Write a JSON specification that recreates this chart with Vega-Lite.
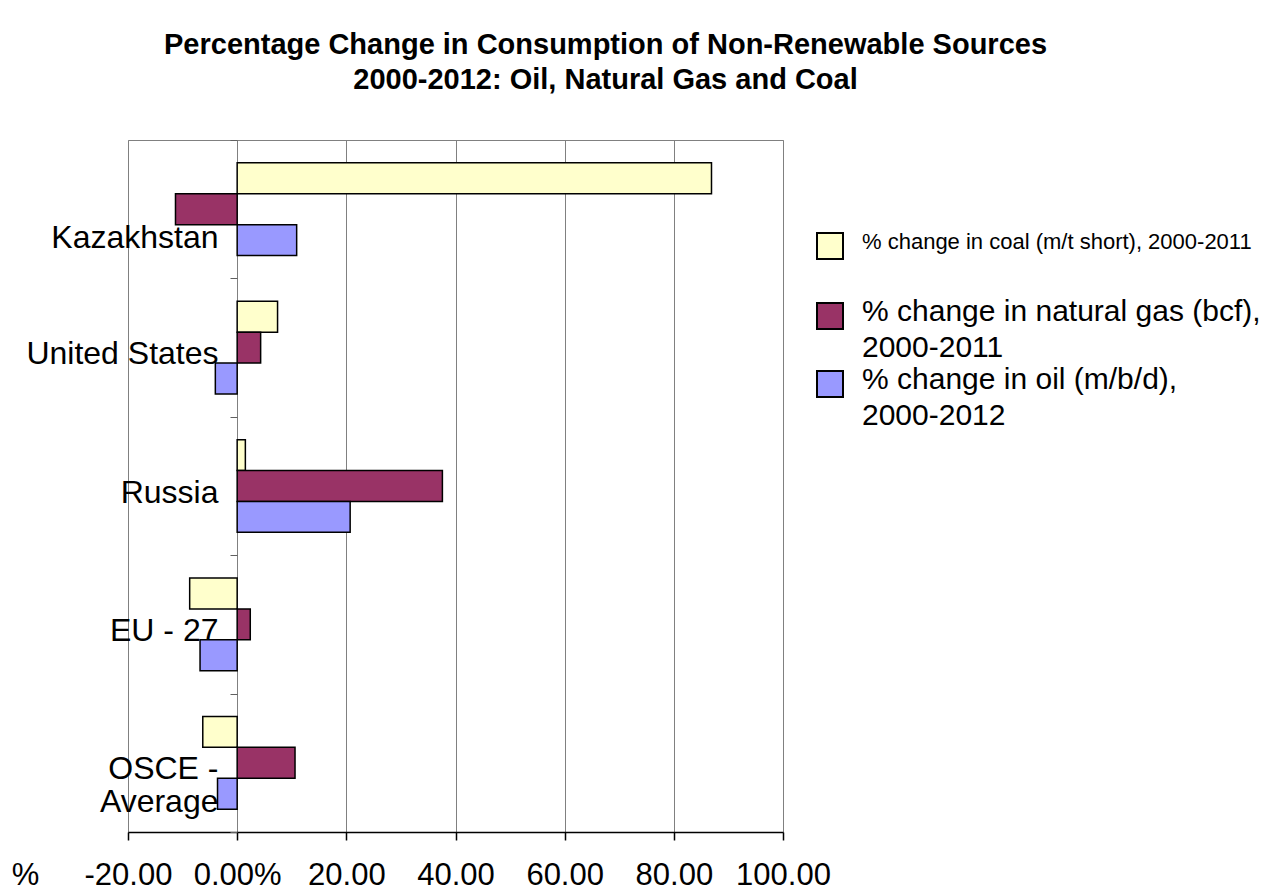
{
  "$schema": "https://vega.github.io/schema/vega-lite/v6.json",
  "autosize": {"type": "none"},
  "padding": {"left": 128, "top": 140, "right": 497, "bottom": 58},
  "width": 655,
  "height": 692,
  "background": "white",
  "config": {
    "font": "Liberation Sans",
    "view": {"stroke": "#808080", "strokeWidth": 1}
  },
  "title": {
    "text": ["Percentage Change in Consumption of Non-Renewable Sources", "2000-2012: Oil, Natural Gas and Coal"],
    "font": "Liberation Sans",
    "fontSize": 29,
    "fontWeight": "bold",
    "color": "black",
    "anchor": "middle",
    "dx": 150,
    "baseline": "bottom",
    "lineHeight": 35,
    "offset": 0
  },
  "data": {
    "values": [
      {"country": "Kazakhstan", "series": "% change in coal (m/t short), 2000-2011", "value": 86.9},
      {"country": "Kazakhstan", "series": "% change in natural gas (bcf), 2000-2011", "value": -11.3},
      {"country": "Kazakhstan", "series": "% change in oil (m/b/d), 2000-2012", "value": 10.9},
      {"country": "United States", "series": "% change in coal (m/t short), 2000-2011", "value": 7.4},
      {"country": "United States", "series": "% change in natural gas (bcf), 2000-2011", "value": 4.3},
      {"country": "United States", "series": "% change in oil (m/b/d), 2000-2012", "value": -4.0},
      {"country": "Russia", "series": "% change in coal (m/t short), 2000-2011", "value": 1.5},
      {"country": "Russia", "series": "% change in natural gas (bcf), 2000-2011", "value": 37.6},
      {"country": "Russia", "series": "% change in oil (m/b/d), 2000-2012", "value": 20.7},
      {"country": "EU - 27", "series": "% change in coal (m/t short), 2000-2011", "value": -8.7},
      {"country": "EU - 27", "series": "% change in natural gas (bcf), 2000-2011", "value": 2.4},
      {"country": "EU - 27", "series": "% change in oil (m/b/d), 2000-2012", "value": -6.8},
      {"country": "OSCE - Average", "series": "% change in coal (m/t short), 2000-2011", "value": -6.3},
      {"country": "OSCE - Average", "series": "% change in natural gas (bcf), 2000-2011", "value": 10.6},
      {"country": "OSCE - Average", "series": "% change in oil (m/b/d), 2000-2012", "value": -3.6}
    ]
  },
  "mark": {"type": "bar", "stroke": "black", "strokeWidth": 1.5, "orient": "horizontal"},
  "encoding": {
    "x": {
      "field": "value",
      "type": "quantitative",
      "scale": {"domain": [-20, 100], "nice": false, "zero": false},
      "axis": {
        "values": [-20, 0, 20, 40, 60, 80, 100],
        "labelExpr": "datum.value == 0 ? '0.00%' : replace(format(datum.value, '.2f'), '\u2212', '-')",
        "labelFont": "Liberation Sans",
        "labelFontSize": 31,
        "labelColor": "black",
        "labelPadding": 20,
        "labelFlush": false,
        "labelOverlap": false,
        "tickSize": 8,
        "tickColor": "black",
        "tickWidth": 1.5,
        "domainColor": "black",
        "domainWidth": 1.5,
        "grid": true,
        "gridColor": "#808080",
        "gridWidth": 1,
        "title": "%",
        "titleFont": "Liberation Sans",
        "titleFontSize": 31,
        "titleFontWeight": "normal",
        "titleColor": "black",
        "titleX": -103,
        "titleY": 28,
        "titleAlign": "center",
        "titleBaseline": "top"
      }
    },
    "y": {
      "field": "country",
      "type": "nominal",
      "sort": ["Kazakhstan", "United States", "Russia", "EU - 27", "OSCE - Average"],
      "scale": {"paddingInner": 0, "paddingOuter": 0},
      "axis": {
        "title": null,
        "offset": -109,
        "domain": false,
        "grid": false,
        "tickBand": "extent",
        "tickSize": 7,
        "tickColor": "#606060",
        "tickWidth": 1,
        "labelFont": "Liberation Sans",
        "labelFontSize": 32,
        "labelColor": "black",
        "labelPadding": 12,
        "labelLimit": 300,
        "labelLineHeight": 33,
        "labelOffset": {"condition": {"test": "datum.value == 'Kazakhstan'", "value": 28}, "value": 6},
        "labelExpr": "datum.value == 'OSCE - Average' ? ['OSCE -', 'Average'] : datum.value"
      }
    },
    "yOffset": {
      "field": "series",
      "type": "nominal",
      "sort": ["% change in coal (m/t short), 2000-2011", "% change in natural gas (bcf), 2000-2011", "% change in oil (m/b/d), 2000-2012"],
      "scale": {"paddingInner": 0, "paddingOuter": 0.74}
    },
    "color": {
      "field": "series",
      "type": "nominal",
      "sort": ["% change in coal (m/t short), 2000-2011", "% change in natural gas (bcf), 2000-2011", "% change in oil (m/b/d), 2000-2012"],
      "scale": {
        "domain": ["% change in coal (m/t short), 2000-2011", "% change in natural gas (bcf), 2000-2011", "% change in oil (m/b/d), 2000-2012"],
        "range": ["#FFFFCC", "#993366", "#9999FF"]
      },
      "legend": {
        "title": null,
        "orient": "none",
        "legendX": 687,
        "legendY": 91,
        "symbolType": "square",
        "symbolSize": 676,
        "symbolStrokeColor": "black",
        "symbolStrokeWidth": 2,
        "symbolOpacity": 1,
        "labelFont": "Liberation Sans",
        "labelFontSize": 30,
        "labelColor": "black",
        "labelLimit": 600,
        "labelOffset": 17,
        "rowPadding": 2,
        "labelExpr": "datum.value == '% change in natural gas (bcf), 2000-2011' ? ['% change in natural gas (bcf),', '2000-2011'] : datum.value == '% change in oil (m/b/d), 2000-2012' ? ['% change in oil (m/b/d),', '2000-2012'] : [datum.value, ' ']",
        "encode": {
          "labels": {
            "update": {
              "fontSize": {"signal": "datum.index == 0 ? 22 : 30"},
              "lineHeight": {"signal": "datum.index == 0 ? 42 : 36"},
              "dy": {"value": -4}
            }
          }
        }
      }
    }
  }
}
